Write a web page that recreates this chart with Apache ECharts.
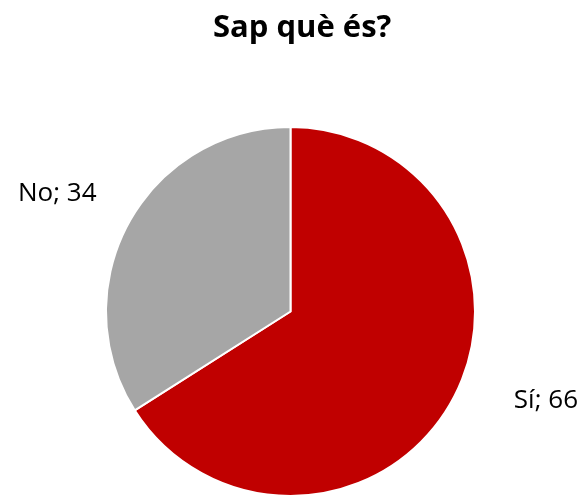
<!DOCTYPE html>
<html>
<head>
<meta charset="utf-8">
<script src="https://cdn.jsdelivr.net/npm/echarts@6/dist/echarts.min.js"></script>
<style>
  html, body { margin: 0; padding: 0; background: #fff; }
  #main { width: 582px; height: 495px; }
</style>
</head>
<body>
<div id="main"></div>
<script>
"use strict";
let categories = ['Sí', 'No'];
let values = [66, 34];
let sliceColors = ['#C00000', '#A6A6A6'];
// per slice: distance of label to chart edge, and radial line length
let edgeGaps = [4, 18];
let lineLengths = [1, 61];

let myChart = echarts.init(document.getElementById('main'));

let pieData = [];
for (let i = 0; i < categories.length; i++) {
    pieData.push({
        name: categories[i],
        value: values[i],
        itemStyle: { color: sliceColors[i] },
        label: { edgeDistance: edgeGaps[i] },
        labelLine: { length: lineLengths[i] }
    });
}

let option = {
    animation: false,
    title: {
        text: 'Sap què és?',
        left: 208,
        top: 8,
        textStyle: {
            fontFamily: 'Open Sans',
            fontWeight: 'bold',
            fontSize: 31,
            color: '#000'
        }
    },
    series: [{
        type: 'pie',
        center: [290.5, 311.5],
        radius: 184.5,
        startAngle: 90,
        clockwise: true,
        avoidLabelOverlap: false,
        itemStyle: {
            borderColor: '#fff',
            borderWidth: 2
        },
        label: {
            show: true,
            position: 'outside',
            alignTo: 'edge',
            formatter: '{b}; {c}',
            fontFamily: 'Open Sans',
            fontSize: 26,
            color: '#000'
        },
        labelLine: { show: false, length2: 0 },
        data: pieData
    }]
};
myChart.setOption(option);
</script>
</body>
</html>
